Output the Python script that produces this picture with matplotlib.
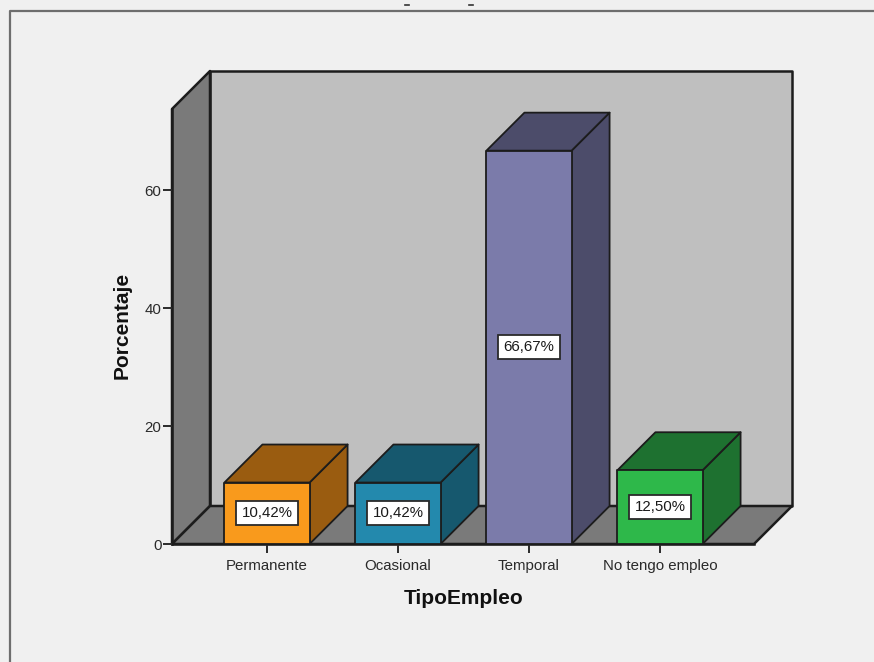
import numpy as np
import matplotlib.pyplot as plt
from matplotlib.patches import Polygon
from matplotlib.lines import Line2D

categorias = ['Permanente', 'Ocasional', 'Temporal', 'No tengo empleo']
valores = [10.42, 10.42, 66.67, 12.50]
etiquetas = ['10,42%', '10,42%', '66,67%', '12,50%']
colores = ['#f99a1c', '#2389ad', '#7b7baa', '#2eb84a']
oscuros = ['#9a5c10', '#16586e', '#4c4c6a', '#1e7130']
yticks = [0, 20, 40, 60]

W, H = 874, 662
plt.rcParams['font.family'] = ['Liberation Sans', 'DejaVu Sans']
negro = '#1c1c1c'
fondo = '#f0f0f0'

fig = plt.figure(figsize=(W/100, H/100), dpi=100, facecolor=fondo)
ax = fig.add_axes([172/W, 1-544/H, 582/W, 435/H])
ax.patch.set_visible(False)

ymax = 435/5.9
ax.set_xlim(-95/131, 487/131)
ax.set_ylim(0, ymax)

# profundidad del efecto 3D en unidades de datos
dx = 38/131
dy = 38/5.9
ancho = 0.65

x0, x1 = ax.get_xlim()

def cara(pts, color, z, lw=1.5):
	ax.add_patch(Polygon(pts, closed=True, facecolor=color, edgecolor=negro,
		linewidth=lw, joinstyle='round', clip_on=False, zorder=z))

# paredes y suelo
cara([(x0+dx, dy), (x1+dx, dy), (x1+dx, ymax+dy), (x0+dx, ymax+dy)], '#bfbfbf', 1, 1.8)
cara([(x0, 0), (x0+dx, dy), (x0+dx, ymax+dy), (x0, ymax)], '#7a7a7a', 1.1, 1.8)
cara([(x0, 0), (x1, 0), (x1+dx, dy), (x0+dx, dy)], '#7a7a7a', 1.2, 1.8)

# barras
for i in range(len(valores)):
	v = valores[i]
	a = i-ancho/2
	b = i+ancho/2
	z = 2+i*0.1
	cara([(b, 0), (b+dx, dy), (b+dx, v+dy), (b, v)], oscuros[i], z, 1.3)
	cara([(a, v), (b, v), (b+dx, v+dy), (a+dx, v+dy)], oscuros[i], z, 1.3)
	cara([(a, 0), (b, 0), (b, v), (a, v)], colores[i], z+0.01, 1.3)
	ax.text(i, v/2, etiquetas[i], ha='center', va='center', fontsize=10.8, color='#1a1a1a',
		zorder=5, bbox=dict(boxstyle='square,pad=0.34', facecolor='white', edgecolor='#2a2a2a', linewidth=1.3))

ax.set_xticks(range(len(categorias)))
ax.set_xticklabels(categorias)
ax.set_yticks(yticks)
ax.tick_params(axis='both', length=6.5, width=1.4, color='#2a2a2a', labelsize=10.8,
	labelcolor='#2a2a2a', pad=1)
ax.tick_params(axis='x', pad=4)

for s in ['top', 'right']:
	ax.spines[s].set_visible(False)
for s in ['left', 'bottom']:
	ax.spines[s].set_linewidth(1.8)
	ax.spines[s].set_color(negro)
	ax.spines[s].set_zorder(1.5)

ax.set_xlabel('TipoEmpleo', fontsize=15, fontweight='bold', color='#111111')
ax.set_ylabel('Porcentaje', fontsize=15, fontweight='bold', color='#111111')
ax.xaxis.set_label_coords(292/582, -45/435)
ax.yaxis.set_label_coords(-40/582, 219/435)

# marco de la ventana, cortado a la derecha y abajo
fig.add_artist(Line2D([10/W, 10/W, 1], [0, 1-11/H, 1-11/H], color='#6e6e6e', linewidth=1.6))
# restos del titulo recortado
for xp in [407, 471]:
	fig.add_artist(Line2D([(xp-2)/W, (xp+2)/W], [1-5/H, 1-5/H], color='#333333', linewidth=1.2))

fig.savefig('out.png', dpi=100, facecolor=fig.get_facecolor())
